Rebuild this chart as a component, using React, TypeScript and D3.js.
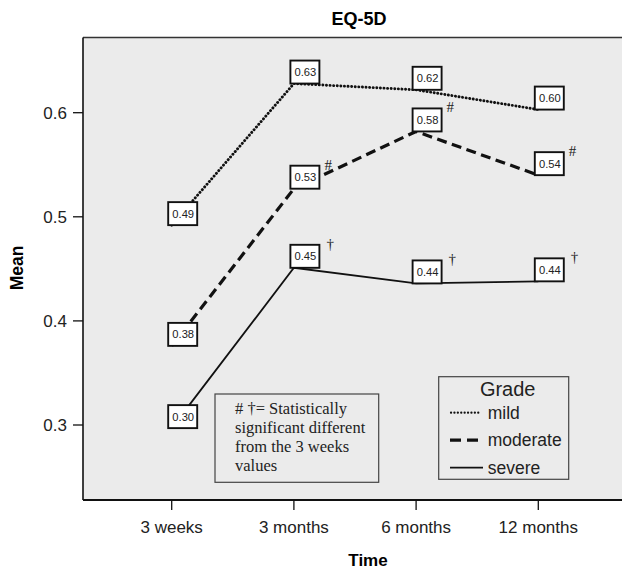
import React from "react";
import * as d3 from "d3";

const categories = ["3 weeks", "3 months", "6 months", "12 months"];
const mild = [0.492, 0.628, 0.622, 0.603];
const moderate = [0.376, 0.527, 0.582, 0.540];
const severe = [0.297, 0.451, 0.436, 0.438];
const yTicks = [0.3, 0.4, 0.5, 0.6];
const moderateMarks = ["", "#", "#", "#"];
const severeMarks = ["", "†", "†", "†"];
const noteLines = ["# †= Statistically", "significant different", "from the 3 weeks", "values"];
const legendItems = ["mild", "moderate", "severe"];

const W = 622;
const H = 569;
const plotLeft = 83;
const plotTop = 37.5;
const plotBottom = 500;

const x = d3.scalePoint<string>().domain(categories).range([171.7, 538.3]);
const y = d3.scaleLinear().domain([0.3, 0.6]).range([425, 112.7]);

const sans = "'Liberation Sans', Arial, sans-serif";
const serif = "'Liberation Serif', 'Times New Roman', serif";

const styles: Record<string, { dash?: string; width: number; cap: string }> = {
  mild: { dash: "0.1 3.5", width: 2.9, cap: "round" },
  moderate: { dash: "10 5.5", width: 3.2, cap: "butt" },
  severe: { width: 1.8, cap: "butt" },
};

const series = [
  { key: "mild", values: mild, marks: ["", "", "", ""] },
  { key: "moderate", values: moderate, marks: moderateMarks },
  { key: "severe", values: severe, marks: severeMarks },
];

const line = d3
  .line<number>()
  .x((_, i) => x(categories[i]) as number)
  .y((d) => y(d));

export default function App() {
  const boxW = 29;
  const boxH = 23;
  return (
    <svg
      width={W}
      height={H}
      style={{ position: "absolute", left: 0, top: 0, background: "#fff" }}
    >
      <rect x={plotLeft} y={plotTop} width={W - plotLeft + 5} height={plotBottom - plotTop} fill="#ebebeb" />
      <line x1={plotLeft} x2={W} y1={plotTop} y2={plotTop} stroke="#333" strokeWidth={1.3} />
      <line x1={plotLeft} x2={plotLeft} y1={plotTop} y2={plotBottom} stroke="#111" strokeWidth={1.6} />
      <line x1={plotLeft} x2={W} y1={plotBottom} y2={plotBottom} stroke="#111" strokeWidth={2} />

      {/* title */}
      <text x={359} y={25} textAnchor="middle" fontFamily={sans} fontWeight="bold" fontSize={18}>
        EQ-5D
      </text>

      {/* y axis */}
      {yTicks.map((t) => (
        <g key={t}>
          <line x1={plotLeft - 10} x2={plotLeft} y1={y(t)} y2={y(t)} stroke="#111" strokeWidth={1.3} />
          <text x={67} y={y(t) + 6} textAnchor="end" fontFamily={sans} fontSize={17} fill="#222">
            {t.toFixed(1)}
          </text>
        </g>
      ))}
      <text
        transform={`translate(23,268) rotate(-90)`}
        textAnchor="middle"
        fontFamily={sans}
        fontWeight="bold"
        fontSize={17.5}
      >
        Mean
      </text>

      {/* x axis */}
      {categories.map((c) => (
        <g key={c}>
          <line x1={x(c)} x2={x(c)} y1={plotBottom} y2={plotBottom + 10} stroke="#111" strokeWidth={1.3} />
          <text x={x(c)} y={533} textAnchor="middle" fontFamily={sans} fontSize={17} fill="#222">
            {c}
          </text>
        </g>
      ))}
      <text x={368} y={566} textAnchor="middle" fontFamily={sans} fontWeight="bold" fontSize={17}>
        Time
      </text>

      {/* lines */}
      {series.map((s) => {
        const st = styles[s.key];
        return (
          <path
            key={s.key}
            d={line(s.values) || ""}
            fill="none"
            stroke="#111"
            strokeWidth={st.width}
            strokeDasharray={st.dash}
            strokeLinecap={st.cap as any}
          />
        );
      })}

      {/* value boxes */}
      {series.map((s) =>
        s.values.map((v, i) => {
          const bx = (x(categories[i]) as number) - 3.5;
          const by = y(v) - boxH;
          const mark = s.marks[i];
          return (
            <g key={s.key + i}>
              <rect x={bx} y={by} width={boxW} height={boxH} fill="#fff" stroke="#111" strokeWidth={1.9} />
              <text x={bx + boxW / 2 + 0.5} y={by + 15.5} textAnchor="middle" fontFamily={sans} fontSize={11.2} fill="#222">
                {v.toFixed(2)}
              </text>
              {mark && (
                <text
                  x={bx + boxW + (mark === "#" ? 5 : 7)}
                  y={by + 4}
                  fontFamily={serif}
                  fontSize={15}
                  fill="#222"
                >
                  {mark}
                </text>
              )}
            </g>
          );
        })
      )}

      {/* note box */}
      <rect x={215} y={394} width={163.7} height={88.3} fill="#ebebeb" stroke="#444" strokeWidth={1.2} />
      {noteLines.map((l, i) => (
        <text key={i} x={235} y={413.5 + i * 19} fontFamily={serif} fontSize={16.5} fill="#222">
          {l}
        </text>
      ))}

      {/* legend */}
      <rect x={438.7} y={376.7} width={130} height={102.6} fill="#ebebeb" stroke="#444" strokeWidth={1.2} />
      <text x={507.7} y={396} textAnchor="middle" fontFamily={sans} fontSize={20} fill="#222">
        Grade
      </text>
      {legendItems.map((k, i) => {
        const st = styles[k];
        const ly = 412.7 + i * 27.5;
        const lx2 = k === "mild" ? 481 : k === "moderate" ? 478 : 483;
        return (
          <g key={k}>
            <line
              x1={k === "mild" ? 451 : 450}
              x2={lx2}
              y1={ly}
              y2={ly}
              stroke="#111"
              strokeWidth={k === "mild" ? 2.2 : st.width}
              strokeDasharray={k === "mild" ? "0.1 3.3" : k === "moderate" ? "11 6" : undefined}
              strokeLinecap={st.cap as any}
            />
            <text x={487.7} y={ly + 6} fontFamily={sans} fontSize={17.5} fill="#222">
              {k}
            </text>
          </g>
        );
      })}
    </svg>
  );
}
